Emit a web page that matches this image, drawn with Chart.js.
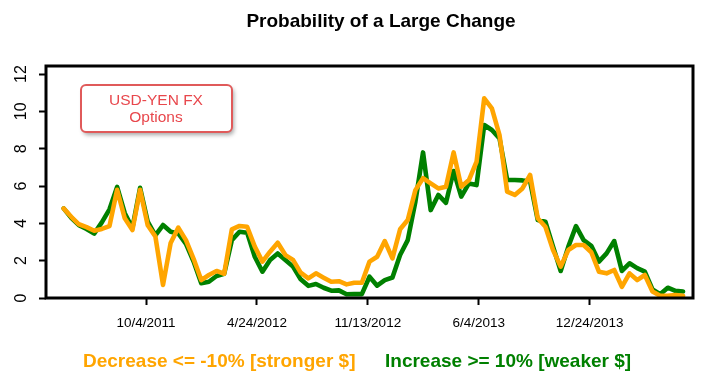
<!DOCTYPE html>
<html lang="en">
<head>
    <meta charset="UTF-8">
    <title>Probability of a Large Change</title>
    <script src="https://cdn.jsdelivr.net/npm/chart.js"></script>
    <style>
        body { margin: 0; background: #fff; }
        #wrap { width: 708px; height: 389px; }
    </style>
</head>
<body>
<div id="wrap"><canvas id="grafico" width="708" height="389"></canvas></div>
<script>
    // dados (pontos a cada 2 semanas)
    const inicio = '2011-05-06';
    const passoDias = 14;
    const decrease = [4.8, 4.35, 3.95, 3.8, 3.6, 3.7, 3.85, 5.8, 4.27, 3.64,
        5.8, 3.9, 3.3, 0.7, 2.95, 3.77, 3.1, 2.1, 0.96, 1.23,
        1.45, 1.3, 3.68, 3.86, 3.82, 2.75, 1.95, 2.48, 2.96, 2.3,
        2.04, 1.36, 1.05, 1.32, 1.09, 0.87, 0.9, 0.73, 0.82, 0.82,
        1.95, 2.21, 3.05, 2.12, 3.68, 4.18, 5.78, 6.42, 6.14, 5.87,
        5.96, 7.8, 5.96, 6.32, 7.3, 10.7, 10.16, 8.73, 5.7, 5.52,
        5.87, 6.59, 4.27, 3.82, 2.57, 1.68, 2.57, 2.84, 2.84, 2.45,
        1.41, 1.32, 1.5, 0.6, 1.32, 0.96, 1.23, 0.35, 0.12, 0.12,
        0.16, 0.12];
    const increase = [4.8, 4.3, 3.9, 3.7, 3.45, 4.05, 4.75, 5.95, 4.54, 3.75,
        5.9, 4.09, 3.35, 3.91, 3.55, 3.46, 2.9, 1.95, 0.79, 0.87,
        1.18, 1.3, 3.1, 3.55, 3.5, 2.21, 1.41, 2.04, 2.39, 2.04,
        1.68, 1.0, 0.65, 0.75, 0.55, 0.39, 0.41, 0.2, 0.21, 0.21,
        1.14, 0.66, 0.96, 1.1, 2.3, 3.1, 5.16, 7.8, 4.71, 5.52,
        5.1, 6.8, 5.43, 6.14, 6.05, 9.27, 9.0, 8.55, 6.32, 6.32,
        6.3, 6.25, 4.18, 4.09, 2.75, 1.45, 2.75, 3.85, 3.1, 2.8,
        1.95, 2.39, 3.05, 1.45, 1.86, 1.6, 1.41, 0.46, 0.2, 0.55,
        0.38, 0.35];
    const datasTicks = ['2011-10-04', '2012-04-24', '2012-11-13', '2013-06-04', '2013-12-24'];
    const rotulosTicks = ['10/4/2011', '4/24/2012', '11/13/2012', '6/4/2013', '12/24/2013'];
    const ticksY = [0, 2, 4, 6, 8, 10, 12];
    const nomes = ['Decrease <= -10% [stronger $]', 'Increase >= 10% [weaker $]'];
    const notaTexto = ['USD-YEN FX', 'Options'];

    const umDia = 24 * 3600 * 1000;
    const posTicks = datasTicks.map(d => (new Date(d) - new Date(inicio)) / umDia / passoDias);

    const pontos = arr => arr.map((v, i) => ({ x: i, y: v }));
    const fonte = '"Liberation Sans", Arial, sans-serif';

    // desenha moldura, rótulos do eixo Y, título, legenda e a caixa de nota
    const decoracao = {
        id: 'decoracao',
        beforeDraw(chart) {
            const ctx = chart.ctx;
            ctx.save();
            ctx.fillStyle = '#fff';
            ctx.fillRect(0, 0, chart.width, chart.height);
            ctx.restore();
        },
        afterDraw(chart) {
            const ctx = chart.ctx;
            const a = chart.chartArea;
            const y = chart.scales.y;
            ctx.save();

            ctx.strokeStyle = '#000';
            ctx.lineWidth = 3;
            ctx.strokeRect(a.left, a.top, a.right - a.left, a.bottom - a.top);

            ctx.fillStyle = '#000';
            ctx.font = '16px ' + fonte;
            ctx.textAlign = 'center';
            ctx.textBaseline = 'middle';
            y.ticks.forEach(t => {
                const py = y.getPixelForValue(t.value);
                ctx.save();
                ctx.translate(22, py);
                ctx.rotate(-Math.PI / 2);
                ctx.fillText(String(t.value), 0, 0);
                ctx.restore();
            });

            ctx.font = 'bold 19px ' + fonte;
            ctx.fillText('Probability of a Large Change', 381, 22);

            ctx.font = 'bold 19px ' + fonte;
            ctx.textAlign = 'left';
            ctx.fillStyle = '#FFA500';
            ctx.fillText(nomes[0], 83, 362);
            ctx.fillStyle = '#008000';
            ctx.fillText(nomes[1], 385, 362);

            // caixa "USD-YEN FX Options"
            ctx.shadowColor = 'rgba(0,0,0,0.35)';
            ctx.shadowBlur = 4;
            ctx.shadowOffsetX = 2;
            ctx.shadowOffsetY = 3;
            ctx.fillStyle = '#fff';
            ctx.beginPath();
            ctx.roundRect(81, 85, 151, 47, 5);
            ctx.fill();
            ctx.shadowColor = 'transparent';
            ctx.strokeStyle = '#E05A5A';
            ctx.lineWidth = 2;
            ctx.stroke();
            ctx.fillStyle = '#E8474C';
            ctx.font = '15.5px ' + fonte;
            ctx.textAlign = 'center';
            ctx.fillText(notaTexto[0], 156, 101);
            ctx.fillText(notaTexto[1], 156, 118);
            ctx.restore();
        }
    };

    const serie = (label, arr, cor) => ({
        label: label,
        data: pontos(arr),
        borderColor: cor,
        borderWidth: 4.6,
        pointRadius: 0,
        tension: 0,
        borderJoinStyle: 'round',
        borderCapStyle: 'round'
    });

    new Chart(document.getElementById('grafico'), {
        type: 'line',
        data: {
            // laranja primeiro para ficar por cima
            datasets: [
                serie(nomes[0], decrease, '#FFA500'),
                serie(nomes[1], increase, '#008000')
            ]
        },
        options: {
            responsive: false,
            animation: false,
            layout: { padding: { left: 0, right: 15, top: 66, bottom: 0 } },
            plugins: {
                legend: { display: false },
                title: { display: false },
                tooltip: { enabled: false }
            },
            scales: {
                x: {
                    type: 'linear',
                    min: -2.3,
                    max: 82.3,
                    afterBuildTicks: s => { s.ticks = posTicks.map(v => ({ value: v })); },
                    afterFit: s => { s.height = 91; },
                    border: { display: false },
                    grid: {
                        drawOnChartArea: false,
                        drawTicks: true,
                        tickLength: 7,
                        tickWidth: 2,
                        tickColor: '#000'
                    },
                    ticks: {
                        autoSkip: false,
                        maxRotation: 0,
                        padding: 10,
                        color: '#000',
                        font: { family: fonte, size: 13.5 },
                        callback: (v, i) => rotulosTicks[i]
                    }
                },
                y: {
                    min: 0,
                    max: 12.43,
                    afterBuildTicks: s => { s.ticks = ticksY.map(v => ({ value: v })); },
                    afterFit: s => { s.width = 46; },
                    border: { display: false },
                    grid: {
                        drawOnChartArea: false,
                        drawTicks: true,
                        tickLength: 7,
                        tickWidth: 2,
                        tickColor: '#000'
                    },
                    ticks: { display: false }
                }
            }
        },
        plugins: [decoracao]
    });
</script>
</body>
</html>
